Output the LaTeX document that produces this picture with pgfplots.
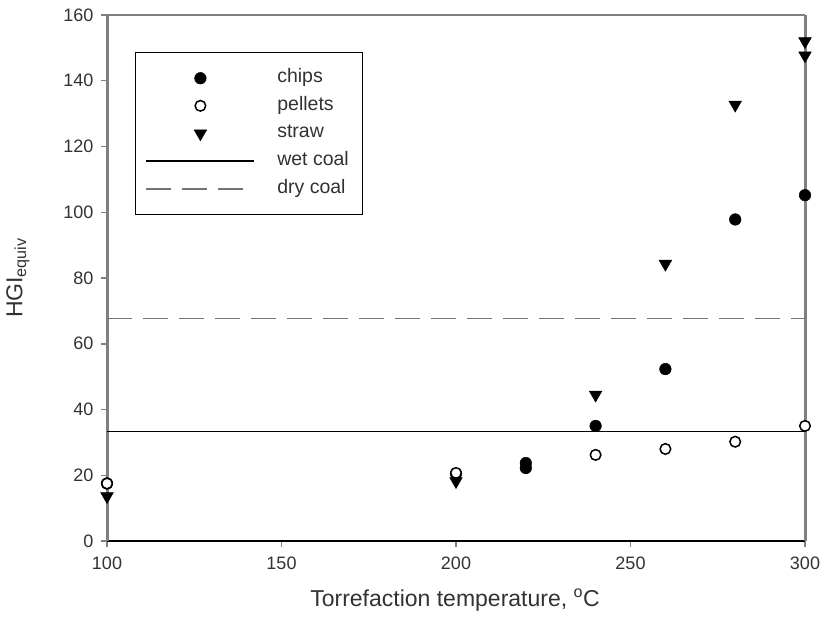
\documentclass[border=0pt]{standalone}
\usepackage{fontspec}
\setmainfont{Liberation Sans}
\usepackage{pgfplots}
\pgfplotsset{compat=1.18}
\definecolor{axgray}{RGB}{128,128,128}
\definecolor{txtgray}{RGB}{50,50,50}
\begin{document}
\begin{tikzpicture}[x=1pt,y=1pt]
\useasboundingbox (0,0) rectangle (827,630);
\begin{axis}[
  at={(107pt,89pt)}, anchor=south west,
  scale only axis, width=698pt, height=526pt,
  xmin=100, xmax=300, ymin=0, ymax=160,
  xtick={100,150,...,300}, ytick={0,20,...,160},
  axis x line*=bottom, axis y line*=box,
  separate axis lines,
  x axis line style={black, line width=1.8pt},
  y axis line style={axgray, line width=3pt},
  xtick pos=bottom, ytick pos=left,
  tick align=outside, major tick length=6pt,
  every tick/.style={axgray, line width=1.5pt},
  /pgf/number format/assume math mode=true,
  tick label style={font=\fontsize{18}{20}\selectfont, text=txtgray},
  yticklabel style={xshift=-4pt},
  xticklabel style={yshift=-6pt},
  clip=false,
  every axis x label/.style={at={(axis description cs:0.4986,-0.112)}, anchor=center},
  every axis y label/.style={at={(axis description cs:-0.1275,0.5)}, rotate=90, anchor=center},
  label style={font=\fontsize{23}{26}\selectfont, text=txtgray},
  xlabel={Torrefaction temperature, \textsuperscript{o}C},
  ylabel={HGI\textsubscript{equiv}},
  legend style={at={(axis description cs:0.04,0.93)}, anchor=north west,
    draw=black, line width=1.2pt, inner xsep=10pt, inner ysep=12pt,
    font=\fontsize{19.5}{22}\selectfont, text=txtgray,
    column sep=18pt, row sep=0pt,
    nodes={text height=13pt, text depth=4pt, inner ysep=5.3pt, inner xsep=4pt}},
  legend cell align=left,
  legend image code/.code={\draw[mark repeat=2,mark phase=2] plot coordinates {(0pt,0pt) (54pt,0pt) (108pt,0pt)};},
]
\draw[axgray, line width=2.8pt] (rel axis cs:0,1) -- (rel axis cs:1,1);
% chips
\addplot[only marks, mark=*, mark size=5.8pt, mark options={draw=black, fill=black, line width=0.5pt}]
  coordinates {(100,17.5) (200,20.5) (220,23.7) (220,22.2) (240,35) (260,52.3) (280,97.8) (300,105.2)};
\addlegendentry{chips}
% pellets
\addplot[only marks, mark=*, mark size=5.3pt, mark options={draw=black, fill=white, line width=1.5pt}]
  coordinates {(100,17.5) (200,20.7) (240,26.2) (260,28.0) (280,30.2) (300,35.0)};
\addlegendentry{pellets}
% straw
\addplot[only marks, mark=triangle*, mark size=7.3pt, mark options={draw=black, fill=black, rotate=180, line width=0.5pt}]
  coordinates {(100,13.6) (200,18.2) (240,44.5) (260,84.3) (280,132.7) (300,152.0) (300,147.7)};
\addlegendentry{straw}
% wet coal
\addplot[black, line width=1.5pt, mark=none] coordinates {(100,33.3) (300,33.3)};
\addlegendentry{wet coal}
% dry coal
\addplot[black!55, line width=1.8pt, dash pattern=on 25pt off 11pt, mark=none] coordinates {(100,67.7) (300,67.7)};
\addlegendentry{dry coal}
\end{axis}
\end{tikzpicture}
\end{document}
